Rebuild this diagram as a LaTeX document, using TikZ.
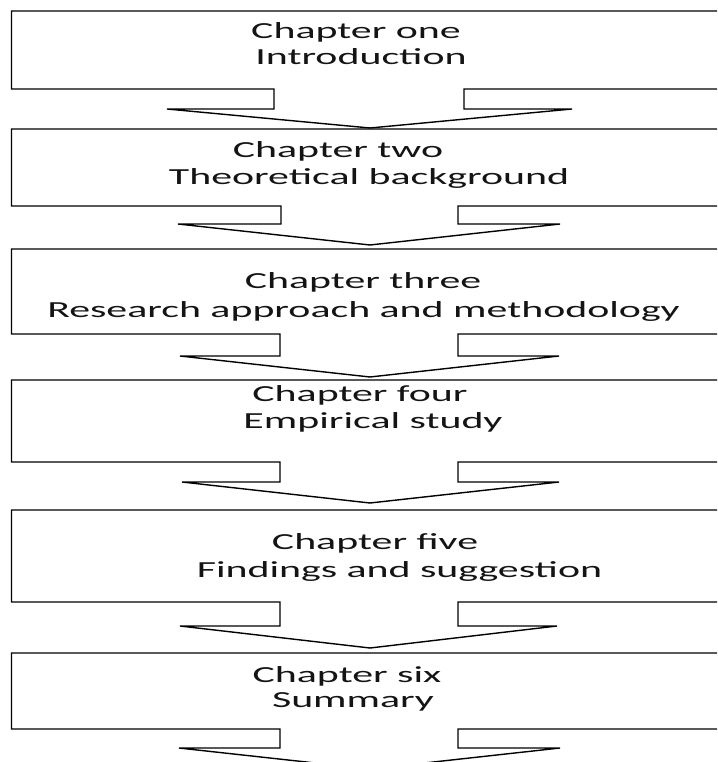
\documentclass[tikz,border=0pt]{standalone}
\usepackage{fontspec}
\setmainfont{Carlito}
\newfontfamily\widefont[FakeStretch=1.82]{Carlito}
\tikzset{
  calloutbox/.style={draw=black, line width=1.4pt, line join=miter, fill=white},
  chaptext/.style={anchor=base, inner sep=0pt, font=\widefont\fontsize{23}{27}\selectfont, text=black!92}
}
\begin{document}
\begin{tikzpicture}[x=1pt,y=-1pt]
\useasboundingbox (0,0) rectangle (717,762);
\clip (0,0) rectangle (717,762);
% callout outlines: top/bottom/shaftL/shaftR/shaftBottom/wingL/wingR/tipY/name
\foreach \t/\b/\sl/\sr/\sb/\wl/\wr/\tp/\n in {
  11/89/274/464/109/167/572/128/c1,
  129/206/281/458/224/178/560/245/c2,
  249/334/280/458/356/180/559/377/c3,
  380/462/280/458/482/182/559/503/c4,
  510/602/280/458/626/180/557/648/c5,
  653/729/280/458/748/179/560/769/c6}{
  \draw[calloutbox] (11.5,\t) coordinate (\n-nw) -- (740,\t) -- (740,\b) -- (\sr,\b) -- (\sr,\sb) -- (\wr,\sb)
     -- (370,\tp) coordinate (\n-tip) -- (\wl,\sb) -- (\sl,\sb) -- (\sl,\b) -- (11.5,\b) -- cycle;
}
\node[chaptext] (t1a) at (356,38.5) {Chapter one};
\node[chaptext] (t1b) at (361,64.5) {Introduction};
\node[chaptext] (t2a) at (338,158) {Chapter two};
\node[chaptext] (t2b) at (369,184) {Theoretical background};
\node[chaptext] (t3a) at (363,288) {Chapter three};
\node[chaptext] (t3b) at (363.5,317) {Research approach and methodology};
\node[chaptext] (t4a) at (360,401) {Chapter four};
\node[chaptext] (t4b) at (373,428) {Empirical study};
\node[chaptext] (t5a) at (375,549) {Chapter five};
\node[chaptext] (t5b) at (399.5,577) {Findings and suggestion};
\node[chaptext] (t6a) at (347,682) {Chapter six};
\node[chaptext] (t6b) at (353,707) {Summary};
\end{tikzpicture}
\end{document}
